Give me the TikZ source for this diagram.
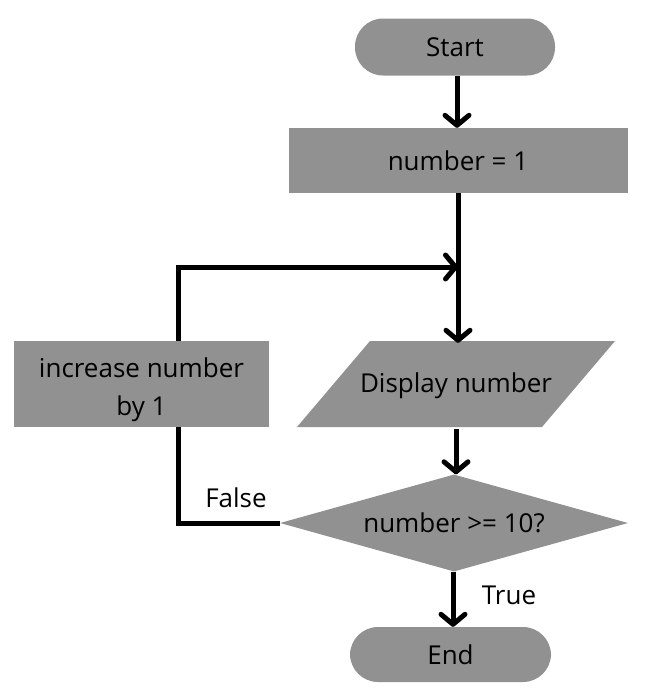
\documentclass[tikz,border=0pt]{standalone}
\usepackage{fontspec}
\setmainfont{Open Sans}
\usetikzlibrary{shapes.geometric,arrows.meta}
\definecolor{boxgray}{HTML}{919191}
\begin{document}
\begin{tikzpicture}[x=1pt,y=-1pt,
  txt/.style={font=\fontsize{26}{38}\selectfont,text=black},
  box/.style={txt,fill=boxgray,inner sep=0pt,align=center},
  term/.style={box,rounded corners=28pt,minimum width=200pt,minimum height=57pt},
  proc/.style={box,rectangle},
  conn/.style={line width=5pt,-{Straight Barb[length=10pt,width=24pt,round]}},
  plain/.style={line width=5pt}]
\useasboundingbox (0,0) rectangle (650,694);
\node[term] (start) at (455,47) {Start};
\node[proc,minimum width=339pt,minimum height=65pt] (num) at (458,160.5) {number = 1};
\fill[boxgray] (297,427) -- (370,341) -- (615,341) -- (542,427) -- cycle;
\node[box,fill=none,minimum width=245pt,minimum height=86pt] (disp) at (456,386) {Display number};
\node[proc,minimum width=255pt,minimum height=86pt] (inc) at (141.5,384) {};
\node[txt,align=center,inner sep=0pt] (inctext) at (141.5,390) {increase number\\by 1};
\node[box,diamond,aspect=3.59,minimum width=348pt,minimum height=97pt] (dia) at (454,523) {number >= 10?};
\node[term,minimum width=201pt,minimum height=55pt] (end) at (450.5,654.5) {End};
\coordinate (j) at (458,267);
\coordinate (lt) at (178,267);
\node[txt,anchor=base] (f) at (236,507) {False};
\node[txt,anchor=base] (t) at (509,604) {True};
\draw[conn] (start.south -| 457,0) -- (num.north -| 457,0);
\draw[conn] (num.south) -- (disp.north -| num.south);
\draw[conn] (inc.north -| lt) -- (lt) -- (j);
\draw[conn] (disp.south) -- (dia.north -| disp.south);
\draw[plain] (dia.west) -| (inc.south -| lt);
\draw[conn] (dia.south -| 453,0) -- (end.north -| 453,0);
\end{tikzpicture}
\end{document}
